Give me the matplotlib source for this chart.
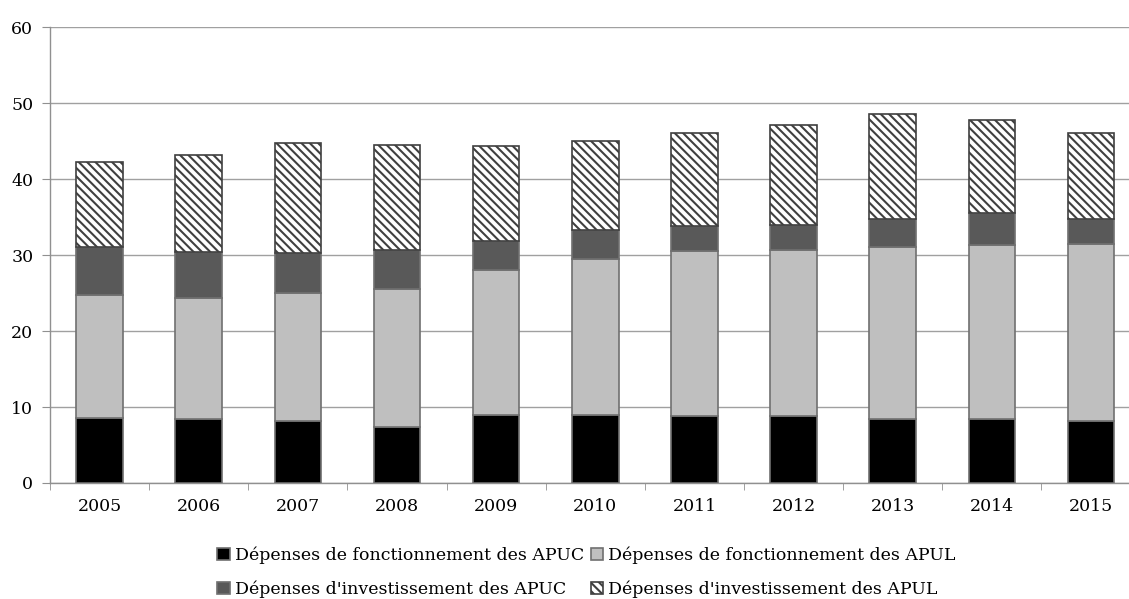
import matplotlib
matplotlib.use("Agg")
import matplotlib.pyplot as plt
import numpy as np

# Dépenses publiques par type et par niveau d'administration
years = ["2005", "2006", "2007", "2008", "2009", "2010",
         "2011", "2012", "2013", "2014", "2015"]
fonct_apuc = [8.6, 8.4, 8.2, 7.4, 8.9, 9.0, 8.8, 8.8, 8.4, 8.4, 8.2]
fonct_apul = [16.1, 15.9, 16.8, 18.1, 19.1, 20.5, 21.7, 21.9, 22.6, 22.9, 23.2]
invest_apuc = [6.3, 6.1, 5.3, 5.1, 3.8, 3.8, 3.3, 3.2, 3.7, 4.2, 3.3]
invest_apul = [11.3, 12.8, 14.4, 13.9, 12.6, 11.7, 12.3, 13.2, 13.9, 12.3, 11.4]

plt.rcParams['font.family'] = ['DejaVu Serif']
plt.rcParams['hatch.linewidth'] = 1.5

fig = plt.figure(figsize=(11.29, 5.99), dpi=100)
ax = fig.add_axes([0.0443, 0.1937, 0.966, 0.761])

x = np.arange(len(years))
w = 0.47
edge = '#707070'

b1 = ax.bar(x, fonct_apuc, w, color='#000000', edgecolor=edge, linewidth=1.2, zorder=3,
            label="Dépenses de fonctionnement des APUC")
bottom = np.array(fonct_apuc)
b2 = ax.bar(x, fonct_apul, w, bottom=bottom, color='#bfbfbf', edgecolor=edge, linewidth=1.2,
            zorder=3, label="Dépenses de fonctionnement des APUL")
bottom = bottom + np.array(fonct_apul)
b3 = ax.bar(x, invest_apuc, w, bottom=bottom, color='#595959', edgecolor=edge, linewidth=1.2,
            zorder=3, label="Dépenses d'investissement des APUC")
bottom = bottom + np.array(invest_apuc)
b4 = ax.bar(x, invest_apul, w, bottom=bottom, color='white', edgecolor='#404040', linewidth=1.2,
            hatch='\\\\\\\\', zorder=3, label="Dépenses d'investissement des APUL")

ax.set_xlim(-0.5, len(years) - 0.5)
ax.set_ylim(0, 60)
ax.set_yticks(range(0, 61, 10))
ax.set_xticks(x)
ax.set_xticklabels(years)
ax.set_xticks(np.arange(-0.5, len(years), 1.0), minor=True)

ax.yaxis.grid(True, color='#a0a0a0', linewidth=1.0, zorder=0)
ax.set_axisbelow(True)
for s in ['top', 'right']:
    ax.spines[s].set_visible(False)
for s in ['left', 'bottom']:
    ax.spines[s].set_color('#909090')
    ax.spines[s].set_linewidth(1.0)

fs = 12.5
ax.tick_params(axis='x', which='major', length=0, pad=11, labelsize=fs)
ax.tick_params(axis='x', which='minor', length=5, color='#909090', direction='out')
ax.tick_params(axis='y', length=6, color='#909090', pad=6, labelsize=fs)

ax.legend(handles=[b1, b3, b2, b4], ncol=2, loc='upper center',
          bbox_to_anchor=(0.492, -0.125), frameon=False, fontsize=fs,
          handlelength=0.7, handleheight=0.7, handletextpad=0.3,
          columnspacing=0.4, labelspacing=0.95, borderaxespad=0)

fig.savefig("out.png", dpi=100)
